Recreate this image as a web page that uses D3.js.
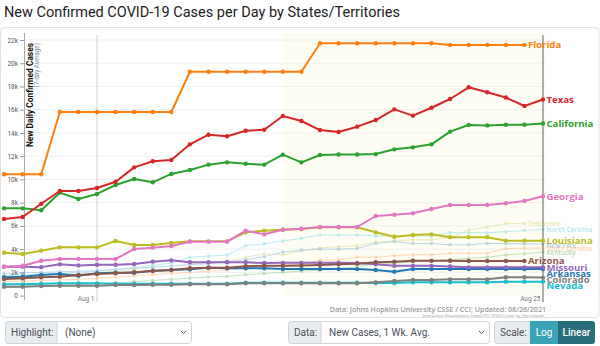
<!DOCTYPE html>
<html>
<head>
<meta charset="utf-8">
<script src="https://cdn.jsdelivr.net/npm/d3@7"></script>
<style>
  html, body { margin: 0; padding: 0; background: #fff; }
  svg { display: block; }
</style>
</head>
<body>
<svg id="chart" width="600" height="346"></svg>
<script>
// Days shown (7-day averages), Jul 27 – Aug 25, 2021
const dates = [
  "2021-07-27","2021-07-28","2021-07-29","2021-07-30","2021-07-31",
  "2021-08-01","2021-08-02","2021-08-03","2021-08-04","2021-08-05",
  "2021-08-06","2021-08-07","2021-08-08","2021-08-09","2021-08-10",
  "2021-08-11","2021-08-12","2021-08-13","2021-08-14","2021-08-15",
  "2021-08-16","2021-08-17","2021-08-18","2021-08-19","2021-08-20",
  "2021-08-21","2021-08-22","2021-08-23","2021-08-24","2021-08-25"
];

const florida = [10450,10450,10450,15800,15800,15800,15800,15800,15800,15800,
  19270,19270,19270,19270,19270,19270,19270,21720,21720,21720,
  21720,21720,21720,21720,21580,21580,21580,21580,21580,null];
const texas = [6590,6770,7910,9000,9000,9260,9800,11040,11560,11670,
  13020,13850,13710,14190,14280,15460,15030,14250,14080,14540,
  15110,16030,15490,16170,16920,17930,17500,17050,16320,16880];
const california = [7510,7510,7340,8860,8310,8750,9520,10040,9750,10470,
  10810,11270,11470,11350,11270,12130,11470,12100,12150,12150,
  12180,12590,12760,13020,14110,14680,14650,14700,14700,14820];
const georgia = [2490,2576,3006,3150,3150,3150,3150,4011,4126,4270,
  4642,4642,4642,5590,5274,5675,5750,5905,5905,5905,
  6851,6963,7083,7454,7800,7800,7800,7950,8150,8550];
const louisiana = [3693,3580,3867,4154,4154,4154,4700,4355,4355,4527,
  4670,4670,4670,5446,5590,5675,5732,5876,5876,5876,
  5446,5071,5216,5274,5030,5030,5030,4728,4728,4728];
const arizona = [1430,1490,1575,1630,1775,1860,1920,2005,2120,2205,
  2350,2405,2405,2520,2575,2580,2600,2635,2690,2750,
  2865,2920,3000,3000,3000,2980,2980,2980,2980,null];
const missouri = [2490,2490,2450,2690,2600,2660,2660,2720,2920,3035,
  2865,2865,2865,2865,2800,2820,2820,2820,2820,2800,
  2700,2560,2560,2560,2500,2430,2430,2430,2430,2430];
const arkansas = [1575,1630,1775,1860,1715,1920,1975,1975,2145,2205,
  2260,2405,2350,2350,2350,2280,2280,2280,2280,2280,
  2200,2060,2280,2280,2290,2290,2290,2290,2290,2290];
const colorado = [770,770,825,850,850,850,910,910,940,940,
  970,970,970,1055,1055,1055,1055,1055,1055,1055,
  1140,1255,1340,1340,1400,1400,1400,1575,1575,1550];
const nevada = [970,970,1030,1055,1055,1055,1030,1030,1030,1030,
  1030,1030,1030,1110,1110,1110,1110,1110,1110,1110,
  1085,1085,1140,1140,1140,1140,1140,1200,1200,1200];

// States drawn dimmed in the background
const tennessee = [1300,1400,1550,1700,1800,1950,2100,2250,2400,2550,
  2700,2850,3000,3300,3600,3500,3860,4100,4200,4300,
  4600,4700,4800,4800,5000,5650,5900,6200,6200,null];
const northCarolina = [1700,1800,1850,1900,2000,2100,2250,2400,2600,2800,
  3300,3400,3500,4300,4450,4700,4930,5216,5216,5216,
  5130,5130,5130,5130,5415,5415,5415,5500,5600,5700];
const newYork = [1900,1950,2000,2050,2100,2150,2250,2350,2450,2550,
  2650,2750,2900,3100,3350,3750,3900,4000,4000,4050,
  4500,4650,4480,4480,4370,4370,4500,4480,4450,4450];
const southCarolina = [1200,1250,1300,1350,1400,1500,1600,1700,1800,1900,
  2000,2100,2200,2400,2500,2630,2630,3060,3060,3300,
  3300,3440,3520,3520,3640,3640,3640,4050,4080,4100];
const kentucky = [700,750,800,900,950,1000,1100,1200,1300,1400,
  1500,1600,1650,1800,1900,2000,2100,2200,2300,2500,
  2700,2800,2900,3000,3100,3200,3300,3500,3600,3750];

const seriesNames  = ["Florida","Texas","California","Georgia","Louisiana","Arizona","Missouri","Arkansas","Colorado","Nevada"];
const seriesValues = [florida, texas, california, georgia, louisiana, arizona, missouri, arkansas, colorado, nevada];
const seriesColors = ["#ff7f0e","#d62728","#2ca02c","#e377c2","#bcbd22","#8c564b","#9467bd","#1f77b4","#7f7f7f","#17becf"];

const dimNames  = ["Tennessee","North Carolina","New York","South Carolina","Kentucky"];
const dimValues = [tennessee, northCarolina, newYork, southCarolina, kentucky];
const dimColors = ["#bcbd22","#17becf","#1f77b4","#ff7f0e","#2ca02c"];

const yTicks = [0,2000,4000,6000,8000,10000,12000,14000,16000,18000,20000,22000];
const xTickDates = ["2021-08-01","2021-08-25"];
const xTickLabels = ["Aug 1","Aug 25"];
const highlightStart = "2021-08-11";

const parse = d3.timeParse("%Y-%m-%d");
const days = dates.map(parse);

const svg = d3.select("#chart");
const W = 600;

// Layout
const plotLeft = 24, plotRight = 545, plotTop = 33, plotBottom = 296;

const x = d3.scaleTime()
  .domain([parse("2021-08-01"), parse("2021-08-25")])
  .range([97, 543]);
const y = d3.scaleLinear()
  .domain([0, 22000])
  .range([295.6, 40]);

// Title
svg.append("text")
  .attr("x", 4).attr("y", 17)
  .attr("font-family", "Roboto, sans-serif")
  .attr("font-size", 14.5)
  .attr("fill", "#222")
  .text("New Confirmed COVID-19 Cases per Day by States/Territories");

// Chart panel
svg.append("rect")
  .attr("x", 0.5).attr("y", 27.5)
  .attr("width", W - 1.5).attr("height", 290)
  .attr("rx", 4)
  .attr("fill", "#fff")
  .attr("stroke", "#e2e2e2");

// Recent-weeks shading
svg.append("rect")
  .attr("x", x(parse(highlightStart)))
  .attr("y", plotTop)
  .attr("width", plotRight - x(parse(highlightStart)))
  .attr("height", plotBottom - plotTop)
  .attr("fill", "#fdfdf3");

// Horizontal gridlines
svg.append("g")
  .selectAll("line")
  .data(yTicks.filter(d => d > 0))
  .join("line")
  .attr("x1", plotLeft).attr("x2", plotRight)
  .attr("y1", d => y(d)).attr("y2", d => y(d))
  .attr("stroke", "#efefef")
  .attr("stroke-width", 1);

// Y axis
const yAxis = d3.axisLeft(y)
  .tickValues(yTicks)
  .tickFormat(d => d === 0 ? "0" : (d / 1000) + "k")
  .tickSize(4)
  .tickPadding(2);
const yg = svg.append("g")
  .attr("transform", `translate(${plotLeft},0)`)
  .call(yAxis);
yg.select(".domain").remove();
yg.selectAll(".tick line").attr("stroke", "#999");
yg.selectAll(".tick text")
  .attr("font-family", "Roboto, sans-serif")
  .attr("font-size", 6.5)
  .attr("fill", "#555");
svg.append("line")
  .attr("x1", plotLeft + 0.5).attr("x2", plotLeft + 0.5)
  .attr("y1", plotTop).attr("y2", plotBottom + 4)
  .attr("stroke", "#aaa");

// Vertical date rules and x labels
xTickDates.forEach((d, i) => {
  const xx = x(parse(d));
  const last = i === xTickDates.length - 1;
  svg.append("line")
    .attr("x1", xx).attr("x2", xx)
    .attr("y1", plotTop + 2).attr("y2", 302)
    .attr("stroke", last ? "#999" : "#ccc")
    .attr("stroke-width", last ? 1.6 : 1);
  svg.append("text")
    .attr("x", xx - 2.5).attr("y", 301)
    .attr("text-anchor", "end")
    .attr("font-family", "Roboto, sans-serif")
    .attr("font-size", 6.5)
    .attr("fill", "#777")
    .text(xTickLabels[i]);
});

// Y axis titles
svg.append("text")
  .attr("transform", "translate(32.5,43) rotate(-90)")
  .attr("text-anchor", "end")
  .attr("font-family", "Roboto, sans-serif")
  .attr("font-weight", 700)
  .attr("font-size", 8.4)
  .attr("fill", "#111")
  .text("New Daily Confirmed Cases");
svg.append("text")
  .attr("transform", "translate(38.6,43) rotate(-90)")
  .attr("text-anchor", "end")
  .attr("font-family", "Roboto, sans-serif")
  .attr("font-size", 6.4)
  .attr("fill", "#888")
  .text("(7-day Average)");

const line = d3.line()
  .defined(d => d.v != null)
  .x(d => x(d.t))
  .y(d => y(d.v));

function toPoints(vals) {
  return vals.map((v, i) => ({ t: days[i], v }));
}

// Dimmed states
const dimG = svg.append("g").attr("opacity", 0.28);
dimValues.forEach((vals, k) => {
  const pts = toPoints(vals);
  dimG.append("path")
    .attr("d", line(pts))
    .attr("fill", "none")
    .attr("stroke", dimColors[k])
    .attr("stroke-width", 1);
  dimG.append("g").selectAll("circle")
    .data(pts.filter(p => p.v != null))
    .join("circle")
    .attr("cx", p => x(p.t)).attr("cy", p => y(p.v))
    .attr("r", 1.8)
    .attr("fill", dimColors[k]);
});

// Highlighted states (draw bottom of list first so top states sit above)
for (let k = seriesValues.length - 1; k >= 0; k--) {
  const pts = toPoints(seriesValues[k]);
  const g = svg.append("g");
  g.append("path")
    .attr("d", line(pts))
    .attr("fill", "none")
    .attr("stroke", seriesColors[k])
    .attr("stroke-width", 2)
    .attr("stroke-linejoin", "round");
  g.selectAll("circle")
    .data(pts.filter(p => p.v != null))
    .join("circle")
    .attr("cx", p => x(p.t)).attr("cy", p => y(p.v))
    .attr("r", 2.2)
    .attr("fill", seriesColors[k]);
}

// End-of-line labels with simple vertical dodging
const labels = [];
seriesValues.forEach((vals, k) => {
  let i = vals.length - 1;
  while (vals[i] == null) i--;
  labels.push({ name: seriesNames[k], color: seriesColors[k], x: x(days[i]) + 3.5, y: y(vals[i]), h: 6, dim: false });
});
dimValues.forEach((vals, k) => {
  let i = vals.length - 1;
  while (vals[i] == null) i--;
  labels.push({ name: dimNames[k], color: dimColors[k], x: x(days[i]) + 3.5, y: y(vals[i]), h: 3.6, dim: true });
});
labels.sort((a, b) => a.y - b.y);
for (let i = 1; i < labels.length; i++) {
  const gap = (labels[i].h + labels[i - 1].h) / 2;
  if (labels[i].y < labels[i - 1].y + gap) labels[i].y = labels[i - 1].y + gap;
}
svg.append("g").selectAll("text")
  .data(labels)
  .join("text")
  .attr("x", d => d.x)
  .attr("y", d => d.y)
  .attr("dy", "0.35em")
  .attr("font-family", "'Open Sans', sans-serif")
  .attr("font-weight", 700)
  .attr("font-size", d => d.dim ? 6.2 : 9.6)
  .attr("fill", d => d.color)
  .attr("fill-opacity", d => d.dim ? 0.35 : 1)
  .text(d => d.name);

// Source notes
svg.append("text")
  .attr("x", 546).attr("y", 312)
  .attr("text-anchor", "end")
  .attr("font-family", "'Open Sans', sans-serif")
  .attr("font-weight", 600)
  .attr("font-size", 7.1)
  .attr("fill", "#9a9a9a")
  .text("Data: Johns Hopkins University CSSE / CCI; Updated: 08/26/2021");
svg.append("text")
  .attr("x", 546).attr("y", 317)
  .attr("text-anchor", "end")
  .attr("font-family", "'Open Sans', sans-serif")
  .attr("font-size", 4.2)
  .attr("fill", "#999")
  .text("Interactive Visualization: https://91-DIVOC.com/ by @profwade_");

// Controls row
const ctrlY = 321, ctrlH = 22;
const ctrlFont = "Roboto, sans-serif";
function inputGroup(x0, labelW, x1, label, value) {
  const g = svg.append("g");
  g.append("rect").attr("x", x0 + 0.5).attr("y", ctrlY + 0.5)
    .attr("width", x1 - x0 - 1).attr("height", ctrlH).attr("rx", 3)
    .attr("fill", "#fff").attr("stroke", "#ced4da");
  g.append("path")
    .attr("d", `M${x0 + labelW},${ctrlY + 0.5} H${x0 + 3.5} a3,3 0 0 0 -3,3 V${ctrlY + ctrlH - 2.5} a3,3 0 0 0 3,3 H${x0 + labelW} Z`)
    .attr("fill", "#e9ecef").attr("stroke", "#ced4da");
  g.append("text").attr("x", x0 + 6).attr("y", ctrlY + 15)
    .attr("font-family", ctrlFont).attr("font-size", 10).attr("fill", "#495057")
    .text(label);
  g.append("text").attr("x", x0 + labelW + 8).attr("y", ctrlY + 15)
    .attr("font-family", ctrlFont).attr("font-size", 10).attr("fill", "#495057")
    .text(value);
  g.append("path")
    .attr("d", `M${x1 - 11},${ctrlY + 10} l2.5,2.5 l2.5,-2.5`)
    .attr("fill", "none").attr("stroke", "#555").attr("stroke-width", 1);
}
inputGroup(5, 52, 192, "Highlight:", "(None)");
inputGroup(288, 33, 490, "Data:", "New Cases, 1 Wk. Avg.");

// Scale toggle
const sg = svg.append("g");
sg.append("path")
  .attr("d", `M530,${ctrlY + 0.5} H497.5 a3,3 0 0 0 -3,3 V${ctrlY + ctrlH - 2.5} a3,3 0 0 0 3,3 H530 Z`)
  .attr("fill", "#e9ecef").attr("stroke", "#ced4da");
sg.append("text").attr("x", 500).attr("y", ctrlY + 15)
  .attr("font-family", ctrlFont).attr("font-size", 10).attr("fill", "#495057")
  .text("Scale:");
sg.append("rect").attr("x", 530).attr("y", ctrlY).attr("width", 28).attr("height", ctrlH + 1)
  .attr("fill", "#3aa3b6");
sg.append("path")
  .attr("d", `M558,${ctrlY} H592 a3,3 0 0 1 3,3 V${ctrlY + ctrlH - 2} a3,3 0 0 1 -3,3 H558 Z`)
  .attr("fill", "#296c7a");
sg.append("text").attr("x", 544).attr("y", ctrlY + 15).attr("text-anchor", "middle")
  .attr("font-family", ctrlFont).attr("font-size", 10).attr("fill", "#fff")
  .text("Log");
sg.append("text").attr("x", 576.5).attr("y", ctrlY + 15).attr("text-anchor", "middle")
  .attr("font-family", ctrlFont).attr("font-weight", 500).attr("font-size", 10).attr("fill", "#fff")
  .text("Linear");
</script>
</body>
</html>
